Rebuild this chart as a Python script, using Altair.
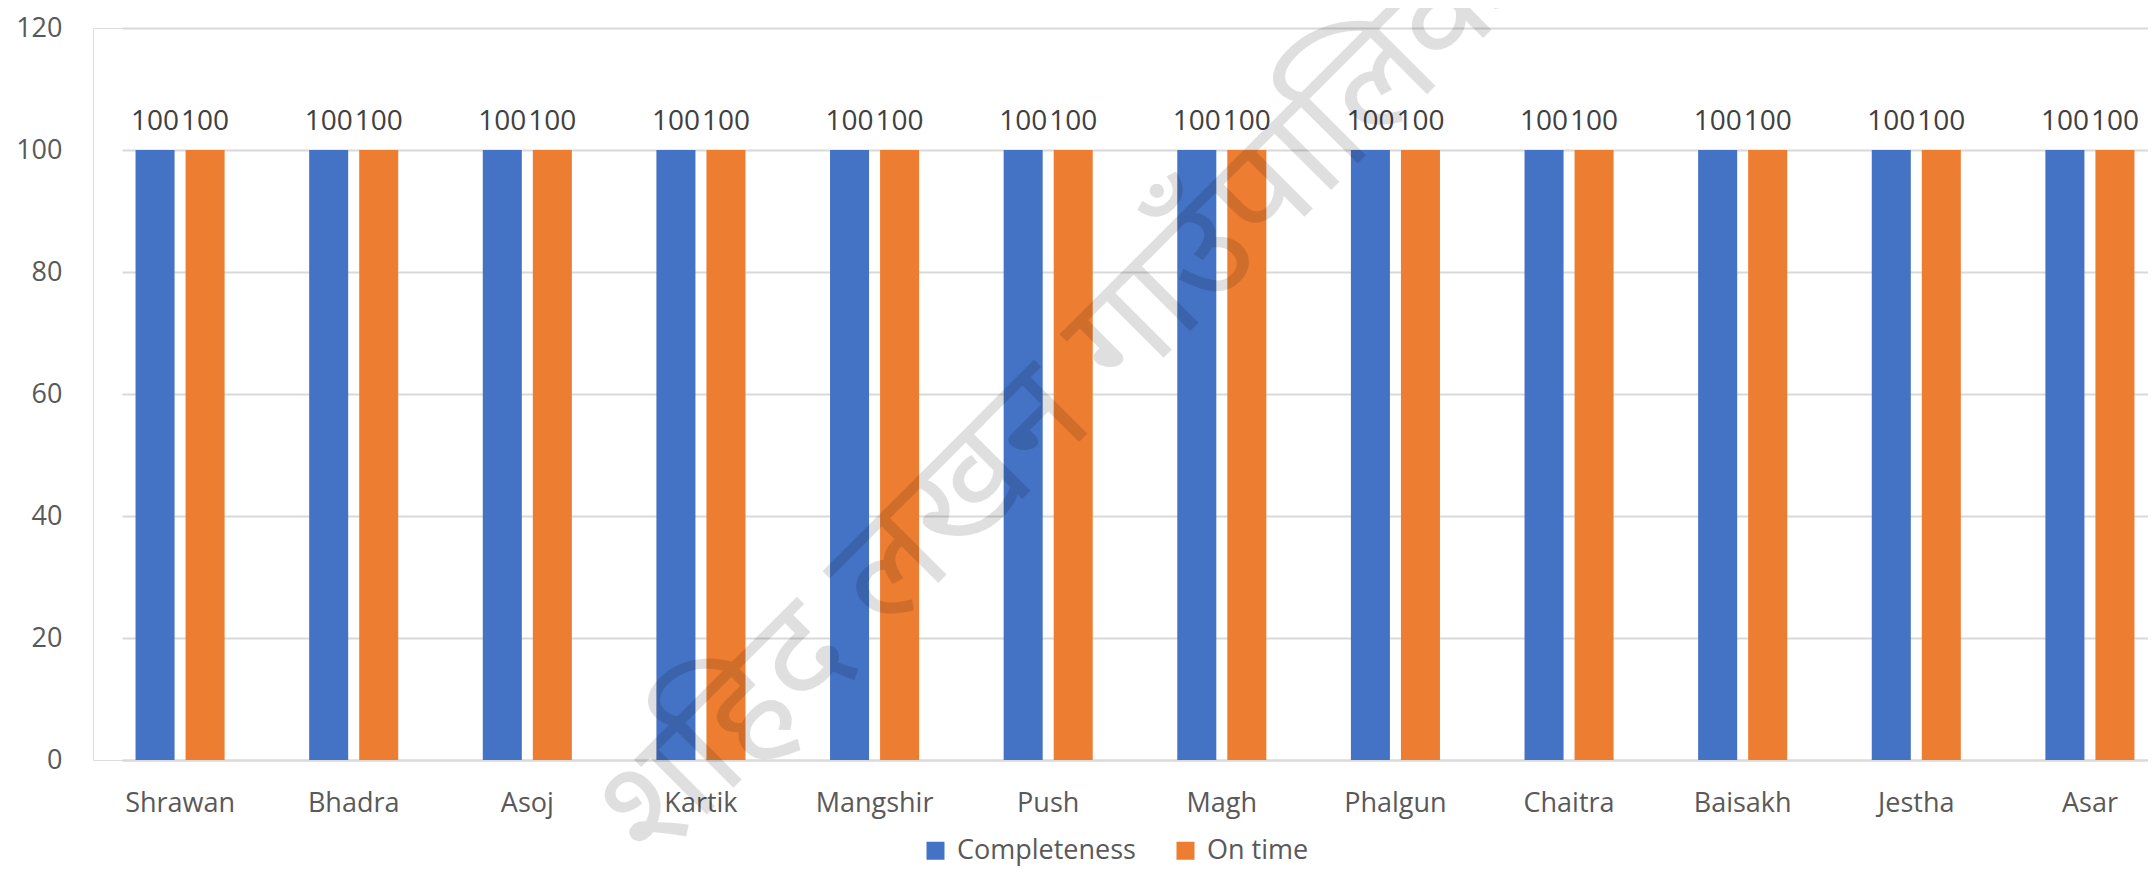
import altair as alt
import pandas as pd

months = ["Shrawan", "Bhadra", "Asoj", "Kartik", "Mangshir", "Push",
          "Magh", "Phalgun", "Chaitra", "Baisakh", "Jestha", "Asar"]
series = ["Completeness", "On time"]
completeness = [100, 100, 100, 100, 100, 100, 100, 100, 100, 100, 100, 100]
on_time = [100, 100, 100, 100, 100, 100, 100, 100, 100, 100, 100, 100]
y_ticks = [0, 20, 40, 60, 80, 100, 120]
colors = ["#4472C4", "#ED7D31"]
watermark = ["शहिद लखन गाउँपालिका"]

rows = []
for m, c, o in zip(months, completeness, on_time):
    rows.append({"Month": m, "Series": series[0], "Value": c})
    rows.append({"Month": m, "Series": series[1], "Value": o})
df = pd.DataFrame(rows)

FONT = "Open Sans"

x = alt.X("Month:N", sort=months, title=None,
          scale=alt.Scale(paddingInner=0.487, paddingOuter=0.078, range=[29, 2055]),
          axis=alt.Axis(labelAngle=0, labelFontSize=27, labelColor="#595959",
                        labelFont=FONT, ticks=False, tickSize=0, labelPadding=30,
                        domainColor="#D9D9D9", domainWidth=2, grid=False))
xo = alt.XOffset("Series:N", sort=series,
                 scale=alt.Scale(paddingInner=0.22, paddingOuter=0))
y = alt.Y("Value:Q", title=None,
          scale=alt.Scale(domain=[0, 120], nice=False, zero=True),
          axis=alt.Axis(values=y_ticks, labelFontSize=27, labelColor="#595959",
                        labelFont=FONT, ticks=False, tickSize=0, labelPadding=31,
                        domain=False, grid=True, gridColor="#D9D9D9", gridWidth=2))

base = alt.Chart(df).encode(x=x, xOffset=xo, y=y)

bars = base.mark_bar().encode(
    color=alt.Color("Series:N", sort=series,
                    scale=alt.Scale(domain=series, range=colors),
                    legend=alt.Legend(title=None, orient="none", legendX=829, legendY=809,
                                      direction="horizontal", symbolType="square",
                                      symbolSize=324, symbolStrokeWidth=0,
                                      labelFontSize=27, labelColor="#595959",
                                      labelFont=FONT, columnPadding=36, labelOffset=8,
                                      labelLimit=500, padding=0))
)

labels = base.mark_text(dy=-20, baseline="alphabetic", fontSize=28,
                        color="#404040", font=FONT).encode(text=alt.Text("Value:Q"))

wm = alt.Chart(pd.DataFrame({"t": watermark})).mark_text(
    angle=315, fontSize=145, color="#000000", opacity=0.12, font="Noto Sans",
    align="center", baseline="middle"
).encode(text="t:N", x=alt.value(978), y=alt.value(360))

chart = alt.layer(bars, labels, wm).properties(
    width=2055, height=732,
    autosize=alt.AutoSizeParams(type="none"),
    padding={"left": 85, "top": 20, "right": 0, "bottom": 108},
).configure_view(stroke=None).configure(font=FONT)

chart.save("out.html", embed_options={"renderer": "svg", "actions": False})
